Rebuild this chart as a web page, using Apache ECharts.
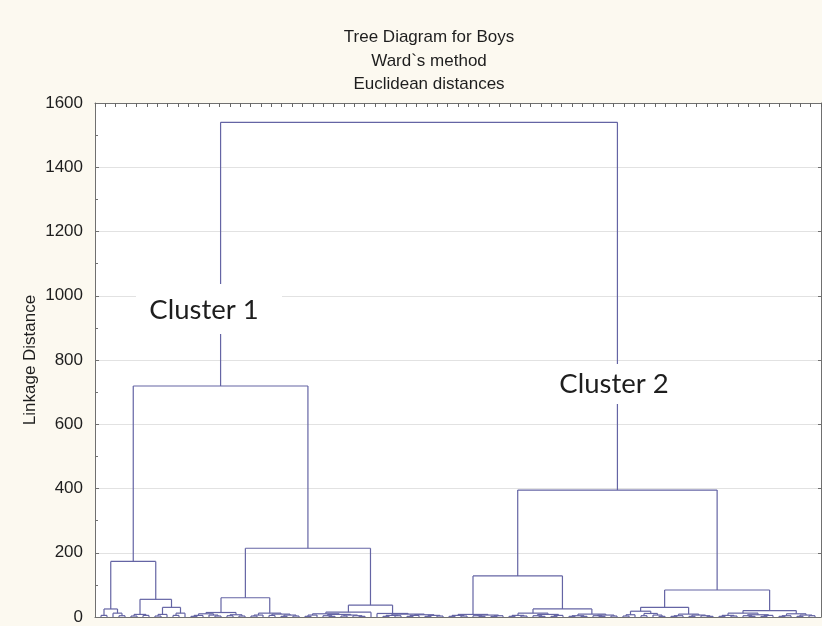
<!DOCTYPE html>
<html>
<head>
<meta charset="utf-8">
<script src="https://cdn.jsdelivr.net/npm/echarts@6/dist/echarts.min.js"></script>
<style>
html,body{margin:0;padding:0;background:#fcf9f0;}
#chart{width:822px;height:626px;}
</style>
</head>
<body>
<div id="chart"></div>
<script>
// ---- Data ----
const titleLines = ['Tree Diagram for Boys', 'Ward`s method', 'Euclidean distances'];
const yAxisName = 'Linkage Distance';
const yTicks = [0, 200, 400, 600, 800, 1000, 1200, 1400, 1600];
const clusterLabels = ['Cluster 1', 'Cluster 2'];

const L = 0; // a leaf (object)
// merge nodes: [linkage distance, left, right]
const left1A = [25, [5, L, L], [12, L, [4, L, L]]];
const grpA = [8, [3, L, L], [5, L, L]];
const grpB = [30, [8, [3, L, L], L], [12, [5, L, L], L]];
const right1A = [55, grpA, grpB];
const sub1A = [173, left1A, right1A];

const grpP1 = [10, [5, [2, L, L], L], [6, L, [3, L, L]]];
const grpP2 = [7, [4, L, L], [3, L, L]];
const grpP = [14, grpP1, grpP2];
const grpQ1 = [6, [3, L, L], L];
const grpQ2 = [9, [5, L, L], [6, [2, L, L], [3, L, L]]];
const grpQ = [12, grpQ1, grpQ2];
const left1B = [60, grpP, grpQ];
const grpR1 = [10, [6, [2, L, L], L], [8, [4, L, [2, L, L]], [6, [3, L, L], [4, L, [2, L, L]]]]];
const grpR = [15, grpR1, L];
const grpT = [9, [5, [2, L, L], [4, L, L]], [7, [5, [2, L, L], L], [5, [2, L, L], [3, L, L]]]];
const grpS = [11, L, grpT];
const right1B = [37, grpR, grpS];
const sub1B = [214, left1B, right1B];

const grpU = [8, [5, [2, L, L], [3, L, L]], [6, [4, L, [2, L, L]], [4, [2, L, L], L]]];
const grpV1 = [12, [5, [2, L, L], [3, L, L]], [8, [4, L, [2, L, L]], [5, [2, L, L], L]]];
const grpV2 = [9, [4, [2, L, L], [2, L, L]], [6, [4, L, [2, L, L]], [3, L, L]]];
const grpV = [25, grpV1, grpV2];
const sub2A = [128, grpU, grpV];

const grpW1 = [18, [7, [3, L, L], L], [11, [4, L, L], [6, L, [2, L, L]]]];
const grpW2 = [9, [4, [2, L, L], L], [6, [2, L, L], [4, L, [2, L, L]]]];
const grpW = [30, grpW1, grpW2];
const grpX1 = [12, [5, [2, L, L], [3, L, L]], [7, [4, L, [2, L, L]], [5, [2, L, L], L]]];
const grpX2 = [10, [4, [2, L, L], L], [6, [2, L, L], [4, L, L]]];
const grpX = [20, grpX1, grpX2];
const sub2B = [84, grpW, grpX];

const cluster1Height = 719;
const cluster2Height = 395;
const rootHeight = 1540;

// ---- Build tree & segments ----
const tree = [rootHeight, [cluster1Height, sub1A, sub1B], [cluster2Height, sub2A, sub2B]];
const segments = [];
let leafCounter = 1;
function layout(node) {
  if (!Array.isArray(node)) { return { x: leafCounter++, h: 0 }; }
  const h = node[0];
  const l = layout(node[1]);
  const r = layout(node[2]);
  segments.push([l.x, l.h, l.x, h]);
  segments.push([r.x, r.h, r.x, h]);
  segments.push([l.x, h, r.x, h]);
  return { x: (l.x + r.x) / 2, h: h };
}
layout(tree);
const nLeaves = leafCounter - 1;

const chart = echarts.init(document.getElementById('chart'));
const txt = '#1e1e1e';
const axisCol = '#707070';
const lineCol = '#6464a4';
const font = "'Liberation Sans', Arial, sans-serif";
const yMin = yTicks[0], yMax = yTicks[yTicks.length - 1], yStep = yTicks[1] - yTicks[0];

chart.setOption({
  backgroundColor: '#fcf9f0',
  animation: false,
  title: titleLines.map((t, i) => ({
    text: t, left: 424, textAlign: 'center', top: 24 + i * 23.5,
    textStyle: { fontFamily: font, fontSize: 17, fontWeight: 'normal', color: txt }
  })),
  grid: { left: 95, right: 1, top: 103, bottom: 9, show: true, backgroundColor: '#ffffff', borderWidth: 0 },
  xAxis: [
    { type: 'value', min: 0, max: nLeaves + 1, position: 'bottom',
      axisLine: { show: true, onZero: false, lineStyle: { color: axisCol } },
      axisTick: { show: false }, axisLabel: { show: false }, splitLine: { show: false } },
    { type: 'value', min: 0, max: 70, interval: 1, position: 'top',
      axisLine: { show: true, onZero: false, lineStyle: { color: axisCol } },
      axisTick: { show: true, inside: true, length: 4, lineStyle: { color: '#666' } },
      axisLabel: { show: false }, splitLine: { show: false } }
  ],
  yAxis: [
    { type: 'value', min: yMin, max: yMax, interval: yStep,
      axisLine: { show: true, onZero: false, lineStyle: { color: axisCol } },
      axisTick: { show: true, inside: true, length: 4, lineStyle: { color: axisCol } },
      axisLabel: { fontFamily: font, fontSize: 17, color: txt, margin: 12, formatter: v => String(v) },
      splitLine: { show: true, lineStyle: { color: '#e2e2e2', width: 1 } } },
    { type: 'value', min: yMin, max: yMax, interval: yStep, position: 'right',
      axisLine: { show: true, onZero: false, lineStyle: { color: axisCol } },
      axisTick: { show: true, inside: true, length: 3, lineStyle: { color: axisCol } },
      axisLabel: { show: false }, splitLine: { show: false } },
    { type: 'value', min: yMin, max: yMax, interval: yStep / 2, position: 'left',
      axisLine: { show: false },
      axisTick: { show: true, inside: true, length: 3, lineStyle: { color: axisCol } },
      axisLabel: { show: false }, splitLine: { show: false } }
  ],
  series: [{
    type: 'custom',
    xAxisIndex: 0, yAxisIndex: 0,
    data: segments,
    encode: { x: [0, 2], y: [1, 3] },
    renderItem: function (params, api) {
      const p1 = api.coord([api.value(0), api.value(1)]);
      const p2 = api.coord([api.value(2), api.value(3)]);
      return { type: 'line', shape: { x1: p1[0], y1: p1[1], x2: p2[0], y2: p2[1] },
        style: { stroke: lineCol, lineWidth: 1.2 } };
    },
    z: 3
  }],
  graphic: [
    { type: 'text', z: 101, x: 30, y: 360, rotation: Math.PI / 2, style: { text: yAxisName, fill: txt, font: "17px 'Liberation Sans', Arial, sans-serif", align: 'center', verticalAlign: 'middle' } },
    { type: 'rect', z: 100, shape: { x: 136, y: 284, width: 146, height: 50 }, style: { fill: '#ffffff' } },
    { type: 'text', z: 101, x: 204, y: 310, style: { text: clusterLabels[0], fill: '#1e1e1e', font: "27.5px Lato, 'Open Sans', sans-serif", align: 'center', verticalAlign: 'middle' } },
    { type: 'rect', z: 100, shape: { x: 546, y: 364, width: 144, height: 40 }, style: { fill: '#ffffff' } },
    { type: 'text', z: 101, x: 614, y: 384, style: { text: clusterLabels[1], fill: '#1e1e1e', font: "27.5px Lato, 'Open Sans', sans-serif", align: 'center', verticalAlign: 'middle' } }
  ]
});
</script>
</body>
</html>
